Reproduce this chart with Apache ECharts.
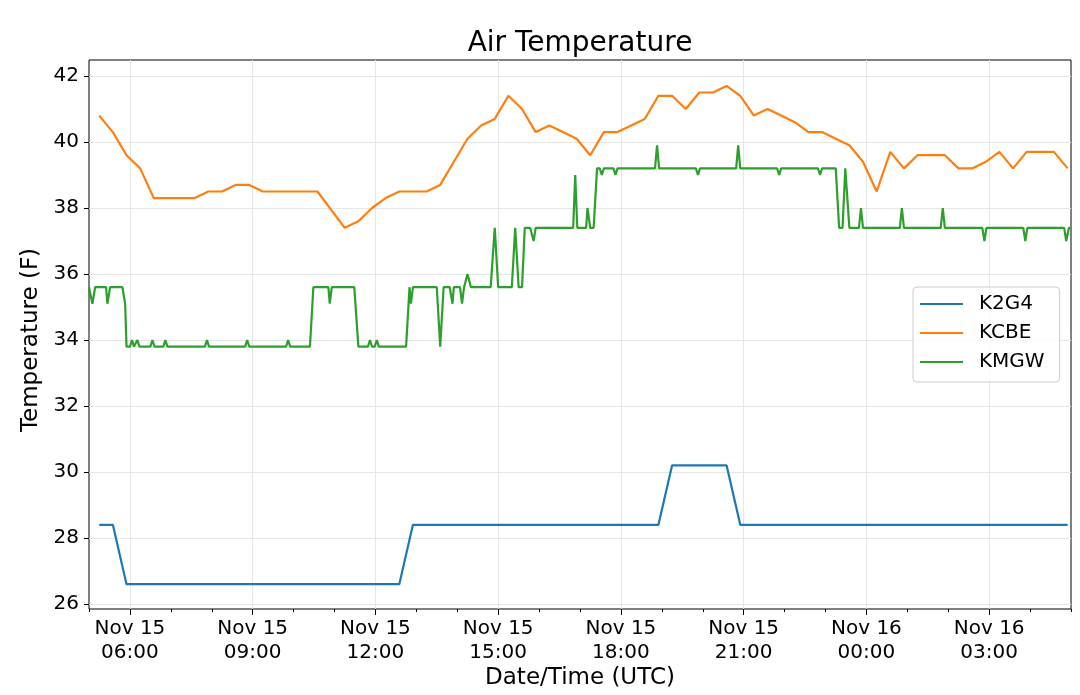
<!DOCTYPE html>
<html>
<head>
<meta charset="utf-8">
<script src="https://cdn.jsdelivr.net/npm/echarts@6/dist/echarts.min.js"></script>
<style>
html, body { margin: 0; padding: 0; background: #fff; }
#chart { width: 1080px; height: 695px; }
</style>
</head>
<body>
<div id="chart"></div>
<script>
// times are UTC, Nov 15 05:00 -> Nov 16 05:00 (hours < 05 belong to Nov 16)
const stations = ['K2G4', 'KCBE', 'KMGW'];
const colors = ['#1f77b4', '#ff7f0e', '#2ca02c'];
const yTicks = [26, 28, 30, 32, 34, 36, 38, 40, 42];

const k2g4 = [
    ['05:15', 28.4], ['05:35', 28.4], ['05:55', 26.6], ['12:35', 26.6], ['12:55', 28.4],
    ['18:55', 28.4], ['19:15', 30.2], ['20:35', 30.2], ['20:55', 28.4], ['04:55', 28.4]
];

const kcbe = [
    ['05:15', 40.8], ['05:35', 40.3], ['05:55', 39.6], ['06:15', 39.2], ['06:35', 38.3],
    ['06:55', 38.3], ['07:15', 38.3], ['07:35', 38.3], ['07:55', 38.5], ['08:15', 38.5],
    ['08:35', 38.7], ['08:55', 38.7], ['09:15', 38.5], ['09:35', 38.5], ['09:55', 38.5],
    ['10:15', 38.5], ['10:35', 38.5], ['11:15', 37.4], ['11:35', 37.6], ['11:55', 38.0],
    ['12:15', 38.3], ['12:35', 38.5], ['12:55', 38.5], ['13:15', 38.5], ['13:35', 38.7],
    ['13:55', 39.4], ['14:15', 40.1], ['14:35', 40.5], ['14:55', 40.7], ['15:15', 41.4],
    ['15:35', 41.0], ['15:55', 40.3], ['16:15', 40.5], ['16:35', 40.3], ['16:55', 40.1],
    ['17:15', 39.6], ['17:35', 40.3], ['17:55', 40.3], ['18:15', 40.5], ['18:35', 40.7],
    ['18:55', 41.4], ['19:15', 41.4], ['19:35', 41.0], ['19:55', 41.5], ['20:15', 41.5],
    ['20:35', 41.7], ['20:55', 41.4], ['21:15', 40.8], ['21:35', 41.0], ['21:55', 40.8],
    ['22:15', 40.6], ['22:35', 40.3], ['22:55', 40.3], ['23:15', 40.1], ['23:35', 39.9],
    ['23:55', 39.4], ['00:15', 38.5], ['00:35', 39.7], ['00:55', 39.2], ['01:15', 39.6],
    ['01:35', 39.6], ['01:55', 39.6], ['02:15', 39.2], ['02:35', 39.2], ['02:55', 39.4],
    ['03:15', 39.7], ['03:35', 39.2], ['03:55', 39.7], ['04:15', 39.7], ['04:35', 39.7],
    ['04:55', 39.2]
];

const kmgw = [
    ['05:00', 35.6], ['05:05', 35.1], ['05:09', 35.6],
    ['05:25', 35.6], ['05:27', 35.1], ['05:31', 35.6],
    ['05:49', 35.6], ['05:53', 35.1], ['05:55', 33.8],
    ['06:00', 33.8], ['06:03', 34.0], ['06:06', 33.8],
    ['06:08', 33.8], ['06:11', 34.0], ['06:14', 33.8],
    ['06:30', 33.8], ['06:33', 34.0], ['06:36', 33.8],
    ['06:49', 33.8], ['06:52', 34.0], ['06:55', 33.8],
    ['07:50', 33.8], ['07:53', 34.0], ['07:56', 33.8],
    ['08:49', 33.8], ['08:52', 34.0], ['08:55', 33.8],
    ['09:49', 33.8], ['09:52', 34.0], ['09:55', 33.8],
    ['10:24', 33.8], ['10:29', 35.6],
    ['10:51', 35.6], ['10:53', 35.1], ['10:56', 35.6],
    ['11:29', 35.6], ['11:35', 33.8],
    ['11:49', 33.8], ['11:52', 34.0], ['11:55', 33.8],
    ['11:59', 33.8], ['12:02', 34.0], ['12:05', 33.8],
    ['12:45', 33.8], ['12:50', 35.6], ['12:52', 35.1], ['12:55', 35.6],
    ['13:30', 35.6], ['13:35', 33.8], ['13:40', 35.6],
    ['13:49', 35.6], ['13:53', 35.1], ['13:55', 35.6],
    ['14:04', 35.6], ['14:07', 35.1], ['14:10', 35.6], ['14:15', 36.0], ['14:20', 35.6],
    ['14:49', 35.6], ['14:55', 37.4], ['15:00', 35.6],
    ['15:20', 35.6], ['15:25', 37.4], ['15:30', 35.6], ['15:35', 35.6], ['15:39', 37.4],
    ['15:47', 37.4], ['15:52', 37.0], ['15:55', 37.4],
    ['16:50', 37.4], ['16:53', 39.0], ['16:56', 37.4],
    ['17:09', 37.4], ['17:11', 38.0], ['17:15', 37.4],
    ['17:20', 37.4], ['17:25', 39.2],
    ['17:29', 39.2], ['17:32', 39.0], ['17:35', 39.2],
    ['17:49', 39.2], ['17:52', 39.0], ['17:55', 39.2],
    ['18:50', 39.2], ['18:53', 39.9], ['18:56', 39.2],
    ['19:50', 39.2], ['19:53', 39.0], ['19:56', 39.2],
    ['20:49', 39.2], ['20:52', 39.9], ['20:55', 39.2],
    ['21:49', 39.2], ['21:52', 39.0], ['21:55', 39.2],
    ['22:49', 39.2], ['22:52', 39.0], ['22:55', 39.2],
    ['23:15', 39.2], ['23:20', 37.4], ['23:25', 37.4], ['23:29', 39.2], ['23:35', 37.4],
    ['23:49', 37.4], ['23:52', 38.0], ['23:55', 37.4],
    ['00:49', 37.4], ['00:52', 38.0], ['00:55', 37.4],
    ['01:49', 37.4], ['01:52', 38.0], ['01:55', 37.4],
    ['02:50', 37.4], ['02:53', 37.0], ['02:56', 37.4],
    ['03:50', 37.4], ['03:53', 37.0], ['03:56', 37.4],
    ['04:50', 37.4], ['04:53', 37.0], ['04:57', 37.4], ['04:59', 37.4]
];

const font = 'DejaVu Sans';

// hours since Nov 15 00:00 UTC
const toHours = s => {
    const [h, m] = s.split(':').map(Number);
    return (h < 5 ? h + 24 : h) + m / 60;
};

const hourLabel = v => {
    const h = Math.round(v);
    const day = h < 24 ? 'Nov 15' : 'Nov 16';
    return day + '\n' + String(h % 24).padStart(2, '0') + ':00';
};

const chart = echarts.init(document.getElementById('chart'));
chart.setOption({
    animation: false,
    textStyle: { fontFamily: font },
    title: {
        text: 'Air Temperature',
        left: 580,
        top: 30,
        padding: 0,
        textAlign: 'center',
        textStyle: { fontSize: 28, fontWeight: 'normal', color: '#000', fontFamily: font }
    },
    legend: {
        data: stations,
        orient: 'vertical',
        left: 913,
        top: 287,
        padding: [7, 15, 10, 7],
        icon: 'rect',
        itemWidth: 43,
        itemHeight: 2,
        itemGap: 9,
        borderColor: '#cccccc',
        borderWidth: 1,
        borderRadius: 4,
        backgroundColor: 'rgba(255,255,255,0.8)',
        textStyle: { fontSize: 20, lineHeight: 20, color: '#000', fontFamily: font, padding: [0, 0, 0, 11] }
    },
    grid: [
        // frame + minor ticks
        { left: 89, right: 9, top: 60, bottom: 85, show: true, borderColor: '#000', borderWidth: 1, backgroundColor: 'transparent' },
        // data area (y from 26 to 42)
        { left: 89, right: 9, top: 76, bottom: 91 },
        // major x ticks 06:00 .. 03:00
        { left: 129.92, right: 90.83, top: 60, bottom: 85 }
    ],
    xAxis: [
        {
            gridIndex: 0, type: 'value', min: 5, max: 29, interval: 1,
            axisLine: { show: false },
            axisTick: { show: true, length: 3, lineStyle: { color: '#000' } },
            axisLabel: { show: false },
            splitLine: { show: false },
            name: 'Date/Time (UTC)',
            nameLocation: 'middle',
            nameGap: 58,
            nameTextStyle: { fontSize: 23, color: '#000', fontFamily: font }
        },
        {
            gridIndex: 1, type: 'value', min: 5, max: 29, show: false
        },
        {
            gridIndex: 2, type: 'value', min: 6, max: 27, interval: 3,
            axisLine: { show: false },
            axisTick: { show: true, length: 5, lineStyle: { color: '#000' } },
            axisLabel: {
                formatter: hourLabel,
                fontSize: 20, lineHeight: 24, margin: 7, color: '#000', fontFamily: font
            },
            splitLine: { show: true, lineStyle: { color: '#e6e6e6', width: 1 } }
        }
    ],
    yAxis: [
        { gridIndex: 0, type: 'value', show: false },
        {
            gridIndex: 1, type: 'value', min: yTicks[0], max: yTicks[yTicks.length - 1], interval: 2,
            axisLine: { show: false },
            axisTick: { show: true, length: 5, lineStyle: { color: '#000' } },
            axisLabel: { fontSize: 20, margin: 10, color: '#000', fontFamily: font },
            splitLine: { show: true, lineStyle: { color: '#e6e6e6', width: 1 } },
            name: 'Temperature (F)',
            nameLocation: 'middle',
            nameGap: 40,
            nameTextStyle: { fontSize: 23, color: '#000', fontFamily: font }
        },
        { gridIndex: 2, type: 'value', show: false }
    ],
    series: [k2g4, kcbe, kmgw].map((rows, i) => ({
        name: stations[i],
        type: 'line',
        xAxisIndex: 1,
        yAxisIndex: 1,
        symbol: 'none',
        data: rows.map(([t, v]) => [toHours(t), v]),
        lineStyle: { color: colors[i], width: 2.2 },
        itemStyle: { color: colors[i] }
    }))
});
</script>
</body>
</html>
